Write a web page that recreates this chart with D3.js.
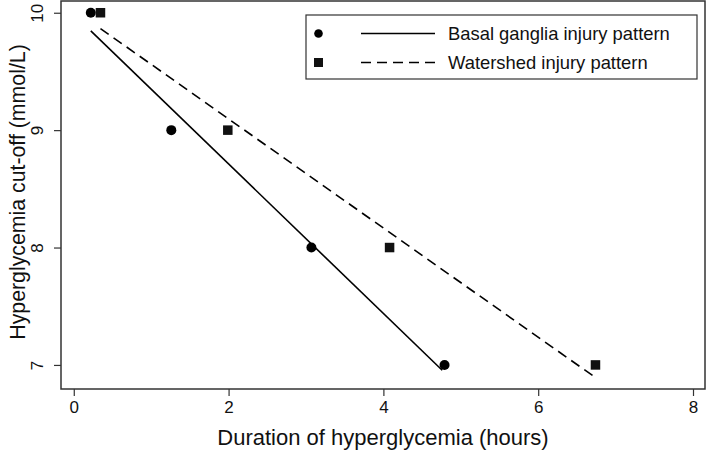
<!DOCTYPE html>
<html>
<head>
<meta charset="utf-8">
<script src="https://cdn.jsdelivr.net/npm/d3@7"></script>
<style>
  html, body { margin: 0; padding: 0; background: #fff; }
  svg { display: block; font-family: "Liberation Sans", Arial, Helvetica, sans-serif; }
</style>
</head>
<body>
<svg id="chart" width="708" height="453"></svg>
<script>
// ---- data ----
const basalX = [0.22, 1.26, 3.07, 4.79];
const basalY = [10, 9, 8, 7];
const watershedX = [0.345, 1.99, 4.08, 6.74];
const watershedY = [10, 9, 8, 7];
// fitted lines: endpoints
const basalFitX = [0.22, 4.76];
const basalFitY = [9.845, 6.955];
const watershedFitX = [0.345, 6.73];
const watershedFitY = [9.865, 6.897];
const xTicks = [0, 2, 4, 6, 8];
const yTicks = [7, 8, 9, 10];
const seriesNames = ["Basal ganglia injury pattern", "Watershed injury pattern"];
const xTitle = "Duration of hyperglycemia (hours)";
const yTitle = "Hyperglycemia cut-off (mmol/L)";

const W = 708, H = 453;
const margin = {left: 61, right: 3, top: 1, bottom: 64};
const svg = d3.select("#chart");

const x = d3.scaleLinear().domain([-0.165, 8.155]).range([margin.left, W - margin.right]);
const y = d3.scaleLinear().domain([6.795, 10.10]).range([H - margin.bottom, margin.top]);

const frameColor = "#333";

// plot frame
svg.append("rect")
  .attr("x", margin.left).attr("y", margin.top)
  .attr("width", W - margin.left - margin.right)
  .attr("height", H - margin.top - margin.bottom)
  .attr("fill", "none").attr("stroke", frameColor).attr("stroke-width", 1.5);

// x axis
const xAxis = svg.append("g")
  .attr("transform", `translate(0,${H - margin.bottom})`)
  .call(d3.axisBottom(x).tickValues(xTicks).tickSize(7).tickPadding(5).tickFormat(d3.format("d")));
xAxis.select(".domain").remove();
xAxis.selectAll("line").attr("stroke", frameColor).attr("stroke-width", 1.2);
xAxis.selectAll("text").attr("font-size", 17).attr("fill", "#111")
  .attr("font-family", "Liberation Sans, Arial, sans-serif");

// y axis (rotated tick labels)
const yAxis = svg.append("g")
  .attr("transform", `translate(${margin.left},0)`)
  .call(d3.axisLeft(y).tickValues(yTicks).tickSize(7).tickFormat(d3.format("d")));
yAxis.select(".domain").remove();
yAxis.selectAll("line").attr("stroke", frameColor).attr("stroke-width", 1.2);
yAxis.selectAll("text")
  .attr("font-size", 17).attr("fill", "#111")
  .attr("font-family", "Liberation Sans, Arial, sans-serif")
  .attr("x", null).attr("dy", null)
  .attr("text-anchor", "middle")
  .attr("transform", "translate(-18,0) rotate(-90)");

// axis titles
svg.append("text")
  .attr("x", (margin.left + W - margin.right) / 2).attr("y", 445)
  .attr("text-anchor", "middle").attr("font-size", 22).attr("fill", "#111")
  .text(xTitle);
svg.append("text")
  .attr("transform", `translate(25,${(margin.top + H - margin.bottom) / 2 - 3}) rotate(-90)`)
  .attr("text-anchor", "middle").attr("font-size", 21.3).attr("fill", "#111")
  .text(yTitle);

// fitted lines
const line = d3.line().x(d => x(d[0])).y(d => y(d[1]));
svg.append("path")
  .datum(basalFitX.map((v, i) => [v, basalFitY[i]]))
  .attr("d", line).attr("fill", "none").attr("stroke", "#000").attr("stroke-width", 1.6);
svg.append("path")
  .datum(watershedFitX.map((v, i) => [v, watershedFitY[i]]))
  .attr("d", line).attr("fill", "none").attr("stroke", "#000").attr("stroke-width", 1.6)
  .attr("stroke-dasharray", "10,6");

// points
svg.append("g").selectAll("circle")
  .data(basalX.map((v, i) => [v, basalY[i]]))
  .join("circle")
  .attr("cx", d => x(d[0])).attr("cy", d => y(d[1])).attr("r", 5).attr("fill", "#000");
const sq = 9.5;
svg.append("g").selectAll("rect")
  .data(watershedX.map((v, i) => [v, watershedY[i]]))
  .join("rect")
  .attr("x", d => x(d[0]) - sq / 2).attr("y", d => y(d[1]) - sq / 2)
  .attr("width", sq).attr("height", sq).attr("fill", "#111");

// legend
const lg = svg.append("g");
lg.append("rect").attr("x", 306).attr("y", 15).attr("width", 391).attr("height", 64)
  .attr("fill", "#fff").attr("stroke", frameColor).attr("stroke-width", 1.2);
const rows = [33.5, 62.5];
lg.append("circle").attr("cx", 318.5).attr("cy", rows[0]).attr("r", 4.3).attr("fill", "#000");
lg.append("rect").attr("x", 318.5 - 4.5).attr("y", rows[1] - 4.5).attr("width", 9).attr("height", 9).attr("fill", "#111");
lg.append("line").attr("x1", 361).attr("x2", 435).attr("y1", rows[0]).attr("y2", rows[0])
  .attr("stroke", "#000").attr("stroke-width", 1.5);
lg.append("line").attr("x1", 361).attr("x2", 435).attr("y1", rows[1]).attr("y2", rows[1])
  .attr("stroke", "#000").attr("stroke-width", 1.5).attr("stroke-dasharray", "10,6");
seriesNames.forEach((name, i) => {
  lg.append("text").attr("x", 448).attr("y", rows[i]).attr("dy", "0.35em")
    .attr("font-size", 18.4).attr("fill", "#111").text(name);
});
</script>
</body>
</html>
